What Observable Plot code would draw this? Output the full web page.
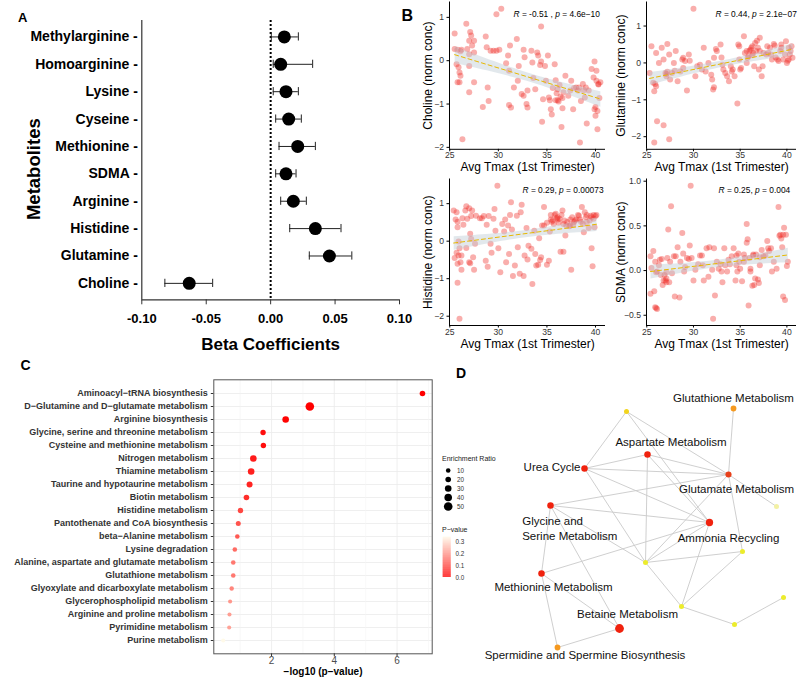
<!DOCTYPE html>
<html><head><meta charset="utf-8">
<script src="https://cdn.jsdelivr.net/npm/d3@7"></script>
<script src="https://cdn.jsdelivr.net/npm/@observablehq/plot@0.6"></script>
<style>
html,body{margin:0;padding:0;background:#fff;}
#root{position:relative;width:800px;height:678px;overflow:hidden;font-family:Arial,"Liberation Sans",sans-serif;}
.lbl{position:absolute;white-space:nowrap;line-height:1;color:#000;}
</style></head><body><div id="root"></div>
<script>
// ---------- Panel A data ----------
const metabolites = ["Methylarginine","Homoarginine","Lysine","Cyseine","Methionine","SDMA","Arginine","Histidine","Glutamine","Choline"];
const beta   = [0.0106, 0.0078, 0.0119, 0.0140, 0.0210, 0.0119, 0.0176, 0.0347, 0.0456, -0.0632];
const ciLow  = [0.0005, 0.0020, 0.0020, 0.0039, 0.0065, 0.0039, 0.0078, 0.0148, 0.0300, -0.0821];
const ciHigh = [0.0215, 0.0326, 0.0215, 0.0238, 0.0347, 0.0197, 0.0277, 0.0546, 0.0630, -0.0450];
const betaTicks = [-0.1, -0.05, 0, 0.05, 0.1];

// ---------- Panel B data ----------
const tmaxTicks = [25, 30, 35, 40];
const tmaxDomain = [24.97, 41.03];
const cholinePts = [[25.5,0.63],[25.5,0.27],[25.8,0.25],[26.1,0.22],[26.2,0.25],[25.7,-0.08],[25.9,-0.15],[26.0,-0.27],[26.1,-0.35],[26.0,-0.5],[25.8,-0.5],[26.3,-1.81],[26.7,0.85],[27.1,0.66],[27.2,0.58],[27.0,0.46],[27.5,0.46],[27.3,0.35],[27.5,0.19],[26.8,0.27],[27.0,0.15],[27.0,-0.12],[27.0,-0.73],[27.5,-0.5],[28.4,-1.07],[28.7,0.56],[28.8,0.31],[28.9,-0.62],[29.0,-0.93],[29.2,0.23],[29.5,0.23],[29.8,0.23],[29.8,1.07],[30.3,1.2],[30.1,0.25],[30.8,-0.06],[31.0,0.12],[31.1,-0.23],[31.2,0.35],[31.1,-1.02],[31.3,-1.08],[31.6,-0.62],[31.9,0.5],[32.0,-0.46],[32.1,-0.12],[32.4,-0.77],[32.6,-0.81],[32.6,0.25],[32.7,0.08],[32.9,-1.0],[33.0,-1.08],[33.0,-0.69],[33.4,0.23],[33.5,-0.04],[33.6,-0.4],[33.8,-0.66],[34.0,0.19],[34.1,0.12],[34.3,-0.1],[34.4,0.79],[34.4,-0.02],[34.5,-1.41],[34.6,-0.89],[34.8,-0.12],[34.9,-0.46],[35.1,0.12],[35.2,-0.85],[35.3,-0.91],[35.4,-1.12],[35.5,-1.24],[35.6,-0.63],[35.8,-0.08],[35.9,-0.91],[35.9,-0.45],[36.0,-0.75],[36.1,-0.66],[36.1,-0.91],[36.2,-0.94],[36.3,-0.56],[36.4,-0.83],[36.5,-1.53],[36.6,-1.1],[36.6,-0.86],[36.7,-0.73],[36.9,-0.35],[37.2,-0.81],[37.4,-0.69],[37.5,-0.46],[37.7,-1.12],[37.8,-0.63],[38.0,-0.62],[38.2,-0.69],[38.3,-0.62],[38.4,-1.89],[38.5,-0.93],[38.7,-0.54],[38.8,-0.68],[38.9,-0.85],[39.0,-0.62],[39.1,-1.45],[39.3,-0.69],[39.6,-0.19],[39.8,-0.39],[39.9,-1.12],[39.9,-0.02],[40.0,-1.07],[40.0,-1.27],[40.1,-0.23],[40.1,-0.46],[40.2,-1.58],[40.2,-1.16],[40.3,-0.54],[40.3,-0.55],[40.4,-0.86],[40.5,-0.5]];
const glutaminePts = [[25.3,-0.27],[25.5,0.45],[25.7,-0.54],[25.8,-0.77],[25.9,-0.57],[26.0,-0.63],[26.1,-1.58],[25.8,-2.16],[26.8,-1.69],[27.4,-2.07],[26.0,0.27],[26.3,0.0],[26.6,0.41],[26.8,0.09],[27.0,-0.27],[27.1,-0.3],[27.1,-0.36],[27.2,0.51],[27.2,-0.24],[27.4,0.23],[27.5,-0.45],[27.7,-0.27],[27.9,0.0],[28.0,-0.21],[28.1,0.32],[28.3,-0.5],[28.6,-0.23],[28.8,0.09],[28.9,0.14],[28.9,-0.14],[29.1,0.05],[29.3,-0.75],[29.5,0.23],[29.6,0.06],[30.0,1.47],[30.2,-0.36],[30.4,-0.09],[30.7,-0.05],[30.9,-0.18],[31.1,0.41],[31.3,-0.23],[31.6,0.0],[31.9,-0.32],[32.0,-0.45],[32.1,-0.72],[32.2,-0.66],[32.2,0.14],[32.4,0.38],[32.5,0.32],[32.9,0.5],[33.0,0.15],[33.1,-0.05],[33.2,-0.18],[33.4,-0.27],[33.6,-0.36],[33.8,-0.5],[34.0,-0.09],[34.1,-0.23],[34.2,-0.18],[34.4,-0.36],[34.7,-1.1],[34.8,0.5],[34.9,0.09],[34.9,0.45],[35.1,-0.14],[35.0,-0.18],[35.4,0.72],[35.5,0.27],[35.7,0.0],[35.7,0.32],[35.8,0.14],[35.9,0.18],[36.0,0.33],[36.1,0.36],[36.2,0.41],[36.3,0.21],[36.3,0.45],[36.4,0.27],[36.5,-0.09],[36.6,0.54],[36.7,0.32],[36.8,0.6],[36.9,0.41],[37.0,-0.18],[37.1,0.68],[37.1,0.32],[37.3,-0.36],[37.4,-0.09],[37.5,0.27],[37.8,0.23],[37.9,0.45],[38.0,0.27],[38.2,0.41],[38.3,0.23],[38.4,0.09],[38.6,0.51],[38.7,0.47],[38.8,0.15],[39.0,0.09],[39.1,0.05],[39.3,0.32],[39.4,0.5],[39.4,0.41],[39.6,0.09],[39.8,0.23],[39.9,0.59],[40.1,0.06],[40.0,0.0],[40.2,0.41],[40.2,0.09],[40.3,0.23],[40.4,0.32],[40.5,0.45],[40.6,0.14]];
const histidinePts = [[25.4,0.82],[25.7,0.77],[25.8,0.52],[25.6,0.58],[25.8,0.37],[25.9,-0.01],[25.5,-0.45],[25.7,-0.31],[25.8,-0.6],[25.9,-0.38],[26.0,-0.19],[26.1,-0.56],[26.2,-0.76],[26.2,-0.38],[25.8,-1.11],[26.0,-2.07],[26.3,0.61],[26.4,0.44],[26.6,0.82],[26.7,0.93],[26.7,-0.18],[26.8,0.6],[27.0,0.88],[27.0,-0.56],[27.1,-0.59],[27.1,0.2],[27.2,0.06],[27.2,0.67],[27.3,0.82],[27.4,-0.43],[27.5,-0.76],[27.6,-0.07],[27.7,0.68],[28.1,0.61],[28.3,0.61],[28.5,0.67],[28.7,-0.52],[28.8,0.44],[28.9,-0.68],[29.0,0.67],[29.2,-0.07],[29.3,-0.31],[29.5,0.6],[29.6,0.86],[29.7,0.28],[29.9,1.48],[30.0,-0.19],[30.2,-0.83],[30.4,0.46],[30.6,0.26],[30.7,0.58],[30.8,-0.56],[31.0,0.42],[31.1,-0.34],[31.2,0.7],[31.3,1.04],[31.4,0.31],[31.5,-0.93],[31.7,-0.65],[31.9,0.68],[32.0,-0.16],[32.2,-0.87],[32.3,0.77],[32.4,0.97],[32.6,-0.93],[32.7,-0.38],[32.9,0.35],[33.0,-0.49],[33.1,-0.12],[33.4,-0.2],[33.5,-1.14],[33.7,0.28],[33.8,-0.34],[33.9,-0.65],[34.1,-0.63],[34.2,0.08],[34.3,-0.5],[34.4,-0.43],[34.5,0.42],[34.7,0.91],[34.7,0.42],[35.0,-0.63],[35.0,0.49],[35.2,-0.52],[35.3,0.26],[35.4,0.7],[35.4,0.58],[35.5,0.52],[35.6,0.55],[35.7,0.46],[35.8,0.7],[35.9,0.73],[36.0,0.61],[36.1,0.64],[36.1,0.58],[36.2,0.49],[36.3,0.6],[36.4,-0.28],[36.5,0.7],[36.6,0.82],[36.7,-0.28],[36.7,0.46],[36.8,0.55],[36.9,0.15],[37.0,0.42],[37.1,0.51],[37.3,0.4],[37.4,0.58],[37.4,0.42],[37.5,-0.76],[37.6,0.64],[37.7,0.44],[37.8,0.51],[37.9,0.55],[38.0,0.58],[38.2,0.7],[38.3,0.68],[38.4,0.58],[38.5,0.52],[38.6,0.91],[38.7,0.46],[38.8,0.24],[38.9,0.77],[39.0,0.64],[39.1,0.7],[39.1,0.51],[39.3,0.35],[39.4,0.55],[39.5,0.68],[39.6,-0.19],[39.6,0.64],[39.7,-0.67],[39.8,0.7],[39.8,0.6],[39.9,0.37],[40.0,0.67],[40.1,0.7]];
const sdmaPts = [[25.4,0.16],[25.4,-0.26],[25.5,0.03],[25.7,0.22],[25.8,-0.23],[25.9,-0.41],[26.0,-0.42],[26.1,-0.43],[25.9,0.1],[26.0,-0.02],[26.1,-0.01],[26.3,0.06],[26.4,0.12],[26.5,-0.05],[26.6,0.13],[26.7,-0.16],[26.8,-0.11],[26.9,-0.05],[27.0,-0.11],[27.1,-0.13],[27.1,-0.09],[27.1,-0.02],[27.2,0.14],[27.3,0.46],[27.4,-0.13],[27.5,0.1],[27.6,0.72],[27.7,-0.03],[27.9,0.16],[28.0,-0.29],[28.1,0.16],[28.3,0.26],[28.5,-0.3],[28.6,0.1],[28.8,0.42],[28.9,0.19],[29.0,-0.01],[29.1,0.04],[29.3,0.14],[29.5,0.13],[29.6,0.28],[29.7,0.95],[29.8,0.14],[30.0,-0.11],[30.2,0.01],[30.5,0.07],[30.7,0.17],[30.9,0.17],[31.0,0.06],[31.1,-0.11],[31.4,0.25],[31.6,-0.07],[31.7,0.26],[32.0,0.01],[32.1,-0.54],[32.2,0.25],[32.3,-0.28],[32.5,0.1],[32.7,0.02],[32.9,0.07],[33.0,-0.01],[33.1,-0.13],[33.3,0.25],[33.4,0.06],[33.6,-0.01],[33.75,0.12],[33.9,0.07],[34.1,0.16],[34.3,0.25],[34.5,-0.11],[34.6,0.17],[34.6,0.06],[34.7,-0.01],[34.8,0.19],[34.9,0.1],[35.0,0.02],[35.2,-0.12],[35.4,0.18],[35.4,0.1],[35.5,0.14],[35.7,0.31],[35.7,0.52],[35.8,0.35],[35.9,-0.39],[36.0,0.14],[36.1,0.02],[36.1,-0.01],[36.3,-0.17],[36.4,0.18],[36.4,0.17],[36.5,-0.16],[36.6,-0.09],[36.7,0.18],[36.9,-0.1],[37.0,-0.14],[37.1,0.06],[37.1,0.15],[37.3,0.23],[37.5,0.16],[37.7,0.17],[37.9,0.33],[38.0,0.25],[38.1,0.22],[38.3,0.25],[38.4,-0.01],[38.6,0.1],[38.9,0.02],[39.1,0.71],[39.2,0.39],[39.3,0.4],[39.4,0.36],[39.5,0.26],[39.6,0.4],[39.6,-0.29],[39.7,0.48],[39.8,-0.33],[39.9,0.4],[40.0,0.05],[40.1,0.1]];
const corrLabels = ["R = -0.51 , p = 4.6e\u221210", "R = 0.44, p = 2.1e\u221207", "R = 0.29, p = 0.00073", "R = 0.25, p = 0.004"];

// ---------- Panel C data ----------
const pathways = ["Aminoacyl\u2212tRNA biosynthesis","D\u2212Glutamine and D\u2212glutamate metabolism","Arginine biosynthesis","Glycine, serine and threonine metabolism","Cysteine and methionine metabolism","Nitrogen metabolism","Thiamine metabolism","Taurine and hypotaurine metabolism","Biotin metabolism","Histidine metabolism","Pantothenate and CoA biosynthesis","beta\u2212Alanine metabolism","Lysine degradation","Alanine, aspartate and glutamate metabolism","Glutathione metabolism","Glyoxylate and dicarboxylate metabolism","Glycerophospholipid metabolism","Arginine and proline metabolism","Pyrimidine metabolism","Purine metabolism"];
const negLog10P = [6.81,3.22,2.45,1.73,1.74,1.42,1.35,1.30,1.20,1.01,0.94,0.91,0.83,0.78,0.78,0.73,0.68,0.66,0.65,0.46];
const enrichment = [20,50,30,18,18,30,30,24,20,18,14,10,10,10,10,8,5,5,5,5];
const sizeLegendValues = [10,20,30,40,50];
const pLegendTicks = [0, 0.1, 0.2, 0.3];

// ---------- Panel D data ----------
const nodeIds = ["n1","Glutathione Metabolism","Aspartate Metabolism","Urea Cycle","Glutamate Metabolism","n2","Glycine and Serine Metabolism","Ammonia Recycling","n3","n4","Methionine Metabolism","n5","n6","n7","Betaine Metabolism","Spermidine and Spermine Biosynthesis"];
const layoutX = [146,253,167,104,248,296,70,229,262,165,61,201,303,254,139,77];
const layoutY = [21,18,64,78,84,116,115,132,161,172,183,216,207,234,238,257];
const nodeScore = [0.7,0.5,0.02,0.02,0.12,1.0,0.02,0.02,0.85,0.85,0.02,0.85,0.85,0.85,0.02,0.5];
const nodeHits = [3,4,5,5,4.5,3,5,6,3,3,5,3,3,3,8,4];
const edges = [
  ["n1","Urea Cycle"],["n1","Glutamate Metabolism"],["n1","Ammonia Recycling"],
  ["Glutathione Metabolism","Glutamate Metabolism"],
  ["Urea Cycle","Aspartate Metabolism"],["Urea Cycle","Glutamate Metabolism"],["Urea Cycle","Ammonia Recycling"],["Urea Cycle","n4"],
  ["Aspartate Metabolism","Glutamate Metabolism"],["Aspartate Metabolism","Ammonia Recycling"],["Aspartate Metabolism","n4"],
  ["Glutamate Metabolism","n2"],["Glutamate Metabolism","n3"],["Glutamate Metabolism","n4"],["Glutamate Metabolism","Glycine and Serine Metabolism"],
  ["Glycine and Serine Metabolism","Ammonia Recycling"],["Glycine and Serine Metabolism","n4"],["Glycine and Serine Metabolism","Methionine Metabolism"],["Glycine and Serine Metabolism","Betaine Metabolism"],
  ["Ammonia Recycling","n4"],["Ammonia Recycling","n5"],["Ammonia Recycling","Methionine Metabolism"],
  ["n4","n3"],["n4","n5"],["n3","n5"],["n5","n7"],["n7","n6"],
  ["Methionine Metabolism","Betaine Metabolism"],["Methionine Metabolism","Spermidine and Spermine Biosynthesis"],["Betaine Metabolism","Spermidine and Spermine Biosynthesis"]
];
const netLabelsCenter = [["Glutathione Metabolism",253,8],["Aspartate Metabolism",190.5,52],["Glutamate Metabolism",256,98.7],["Ammonia Recycling",248,148.3],["Methionine Metabolism",73,196.7],["Betaine Metabolism",147,223.7],["Spermidine and Spermine Biosynthesis",104.5,265.3]];
const netLabelsEnd = [["Urea Cycle",100,77.3]];
const netLabelsStart = [["Glycine and",41.7,131],["Serine Metabolism",41.7,146]];

// ---------- helpers ----------
const FONT = 'Arial, "Liberation Sans", sans-serif';
const root = document.getElementById("root");
const baseStyle = {fontFamily: FONT, background: "transparent", overflow: "visible", color: "black"};
function place(el, left, top) { el.style.position = "absolute"; el.style.left = left + "px"; el.style.top = top + "px"; root.appendChild(el); return el; }
function addText(text, left, top, css) { const d = document.createElement("div"); d.className = "lbl"; d.textContent = text; Object.assign(d.style, css); place(d, left, top); }
function italicize(svg) {
  svg.querySelectorAll("text").forEach(t => {
    const s = t.textContent;
    if (!s.startsWith("R =") || t.children.length) return;
    t.textContent = "";
    s.split(/(\bR\b|\bp\b)/).forEach(p => {
      if (!p) return;
      const ts = document.createElementNS("http://www.w3.org/2000/svg", "tspan");
      ts.textContent = p;
      if (p === "R" || p === "p") ts.setAttribute("font-style", "italic");
      t.appendChild(ts);
    });
  });
}

// ---------- Panel A ----------
const rowsA = metabolites.map((name, i) => ({name, i, beta: beta[i], lo: ciLow[i], hi: ciHigh[i]}));
const yBottomA = metabolites.length - 0.4;
const plotA = Plot.plot({
  width: 410, height: 360, marginLeft: 141.3, marginRight: 11, marginTop: 20, marginBottom: 60.7,
  x: {domain: [-0.1, 0.1]},
  y: {domain: [yBottomA, -0.6]},
  style: baseStyle,
  marks: [
    Plot.ruleX([0], {stroke: "black", strokeWidth: 2, strokeDasharray: "2,2"}),
    Plot.ruleY(rowsA, {y: "i", x1: "lo", x2: "hi", stroke: "#222", strokeWidth: 1}),
    Plot.ruleX(rowsA, {x: "lo", y1: d => d.i - 0.15, y2: d => d.i + 0.15, stroke: "#222", strokeWidth: 1}),
    Plot.ruleX(rowsA, {x: "hi", y1: d => d.i - 0.15, y2: d => d.i + 0.15, stroke: "#222", strokeWidth: 1}),
    Plot.dot(rowsA, {x: "beta", y: "i", r: 6.5, fill: "black"}),
    Plot.ruleX([-0.1], {stroke: "#333", strokeWidth: 1.2}),
    Plot.ruleY([yBottomA], {stroke: "#333", strokeWidth: 1.2}),
    Plot.axisX({ticks: betaTicks, tickFormat: d => d.toFixed(2), tickSize: 5, tickPadding: 9, fontSize: 13, fontWeight: "bold", stroke: "#333", label: null}),
    Plot.axisY({ticks: d3.range(metabolites.length), tickFormat: i => metabolites[i] + " -", tickSize: 0, tickPadding: 4, fontSize: 14, fontWeight: "bold", label: null}),
    Plot.text(["Beta Coefficients"], {frameAnchor: "bottom", lineAnchor: "middle", dy: 44.4, fontSize: 17, fontWeight: "bold"}),
    Plot.text(["Metabolites"], {frameAnchor: "left", textAnchor: "middle", lineAnchor: "middle", rotate: -90, dx: -108, dy: 9, fontSize: 18.5, fontWeight: "bold"})
  ]
});
place(plotA, 0, 0);

// ---------- Panel B ----------
function scatter(pts, ylab, stat, o) {
  const [ymin, ymax] = d3.extent(pts, d => d[1]);
  const pad = (ymax - ymin) * 0.05;
  const ydom = [ymin - pad, ymax + pad];
  const svg = Plot.plot({
    width: o.w, height: 178, marginLeft: o.ml, marginRight: o.mr, marginTop: o.mt, marginBottom: o.mb,
    x: {domain: tmaxDomain},
    y: {domain: ydom},
    style: baseStyle,
    marks: [
      Plot.dot(pts, {x: d => d[0], y: d => d[1], r: 3, fill: "#ee2b24", fillOpacity: 0.38}),
      Plot.linearRegressionY(pts, {x: d => d[0], y: d => d[1], stroke: "#E7B800", strokeWidth: 1, strokeDasharray: "4,3", fill: "#bfcdd5", fillOpacity: 0.45}),
      Plot.ruleX([tmaxDomain[0]], {stroke: "black", strokeWidth: 1}),
      Plot.ruleY([ydom[0]], {stroke: "black", strokeWidth: 1}),
      Plot.axisX({ticks: tmaxTicks, tickSize: 2.5, tickPadding: 0.5, fontSize: 8.6, fill: "#333", label: null}),
      Plot.axisY({ticks: o.yticks, tickFormat: o.fmt, tickSize: 2.5, tickPadding: 3, fontSize: 8.6, fill: "#333", label: null}),
      Plot.text([ylab], {frameAnchor: "left", textAnchor: "middle", lineAnchor: "middle", rotate: -90, dx: o.tdx, fontSize: 12}),
      Plot.text(["Avg Tmax (1st Trimester)"], {frameAnchor: "bottom", lineAnchor: "middle", dy: o.xdy, fontSize: 12}),
      Plot.text([stat], {frameAnchor: "top-left", textAnchor: "start", lineAnchor: "middle", dx: o.sdx, dy: o.sdy, fontSize: 8.4})
    ]
  });
  italicize(svg);
  return svg;
}
const intFmt = d => d3.format("d")(d);
const oneFmt = d => d3.format(".1f")(d);
place(scatter(cholinePts, "Choline (norm conc)", corrLabels[0], {w: 210, ml: 49, mr: 5, mt: 1.5, mb: 29.2, yticks: [-2,-1,0,1], fmt: intFmt, tdx: -21, xdy: 18.2, sdx: 64, sdy: 12.5}), 400, 0);
place(scatter(glutaminePts, "Glutamine (norm conc)", corrLabels[1], {w: 200, ml: 46, mr: 4, mt: 1.5, mb: 29.2, yticks: [-2,-1,0,1], fmt: intFmt, tdx: -25, xdy: 18.2, sdx: 69, sdy: 12.5}), 600, 0);
place(scatter(histidinePts, "Histidine (norm conc)", corrLabels[2], {w: 210, ml: 49, mr: 5, mt: 3.5, mb: 28, yticks: [-2,-1,0,1], fmt: intFmt, tdx: -21, xdy: 18.2, sdx: 73, sdy: 11.5}), 400, 175);
place(scatter(sdmaPts, "SDMA (norm conc)", corrLabels[3], {w: 200, ml: 46, mr: 4, mt: 3.5, mb: 28, yticks: [-0.5,0,0.5,1], fmt: oneFmt, tdx: -25, xdy: 18.2, sdx: 72, sdy: 11.5}), 600, 175);

// ---------- Panel C ----------
const rowsC = pathways.map((name, i) => ({name, lp: negLog10P[i], er: enrichment[i], p: Math.pow(10, -negLog10P[i])}));
const rScaleC = {type: "linear", domain: [10, 50], range: [2.3, 4.3]};
const colorC = {type: "linear", domain: [0, 0.345], range: ["#ff0000", "#fff9e8"]};
const plotC = Plot.plot({
  width: 440, height: 338, marginLeft: 213.3, marginRight: 8.3, marginTop: 39.3, marginBottom: 24.7,
  x: {domain: [0.16, 7.12]},
  y: {type: "point", domain: pathways, padding: 0.6},
  r: rScaleC, color: colorC,
  style: baseStyle,
  marks: [
    Plot.gridY({stroke: "#ebebeb", strokeOpacity: 1, strokeWidth: 0.8}),
    Plot.ruleX([1,3,5,7], {stroke: "#f3f3f3", strokeWidth: 0.6}),
    Plot.gridX({ticks: [2,4,6], stroke: "#ebebeb", strokeOpacity: 1, strokeWidth: 0.8}),
    Plot.dot(rowsC, {x: "lp", y: "name", r: "er", fill: "p"}),
    Plot.frame({stroke: "#555", strokeWidth: 1}),
    Plot.axisY({tickSize: 2.5, tickPadding: 3.5, fontSize: 9, fontWeight: "bold", fill: "#333", stroke: "#333", label: null}),
    Plot.axisX({ticks: [2,4,6], tickFormat: d => String(d), tickSize: 3, tickPadding: 0.5, fontSize: 10, fill: "#4d4d4d", stroke: "#333", label: null}),
    Plot.text(["\u2212log10 (p\u2212value)"], {frameAnchor: "bottom", lineAnchor: "middle", dy: 18.4, fontSize: 10, fontWeight: "bold"})
  ]
});
place(plotC, 0, 340);

const sizeLegend = Plot.plot({
  width: 40, height: 50, marginLeft: 0, marginRight: 0, marginTop: 7.3, marginBottom: 5.7,
  y: {type: "point", domain: sizeLegendValues, padding: 0, axis: null},
  r: rScaleC,
  style: baseStyle,
  marks: [
    Plot.dot(sizeLegendValues, {y: d => d, r: d => d, fill: "black", frameAnchor: "left", dx: 11.7}),
    Plot.text(sizeLegendValues, {y: d => d, text: d => String(d), frameAnchor: "left", dx: 20.5, textAnchor: "start", fontSize: 6.3, fill: "#333"})
  ]
});
place(sizeLegend, 436, 462);

const pSteps = d3.range(0, 0.345, 0.0025);
const colorLegend = Plot.plot({
  width: 40, height: 52, marginLeft: 0, marginRight: 0, marginTop: 6.7, marginBottom: 5,
  x: {domain: [0, 1], range: [6.7, 14.7], axis: null},
  y: {domain: [0, 0.345], axis: null},
  color: colorC,
  style: baseStyle,
  marks: [
    Plot.rect(pSteps, {x1: 0, x2: 1, y1: d => d, y2: d => Math.min(0.345, d + 0.003), fill: d => d}),
    Plot.text(pLegendTicks, {y: d => d, text: d => d.toFixed(1), frameAnchor: "left", dx: 19, textAnchor: "start", fontSize: 6.3, fill: "#333"})
  ]
});
place(colorLegend, 436, 530);
addText("Enrichment Ratio", 442, 455, {fontSize: "7px", color: "#222"});
addText("P\u2212value", 442, 525.5, {fontSize: "7px", color: "#222"});

// ---------- Panel D ----------
const nodes = nodeIds.map((id, i) => ({id, x: layoutX[i], y: layoutY[i], score: nodeScore[i], hits: nodeHits[i]}));
const byId = new Map(nodes.map(n => [n.id, n]));
const links = edges.map(([a, b]) => ({a: byId.get(a), b: byId.get(b)}));
const toLab = arr => arr.map(([t, x, y]) => ({t, x, y}));
const plotD = Plot.plot({
  width: 320, height: 280, marginLeft: 0, marginRight: 0, marginTop: 0, marginBottom: 0,
  x: {domain: [0, 320], range: [0, 320], axis: null},
  y: {domain: [0, 280], range: [0, 280], axis: null},
  r: {type: "linear", domain: [3, 8], range: [2.5, 4.4]},
  color: {type: "linear", domain: [0, 0.12, 0.5, 0.7, 0.85, 1], range: ["#f21c0c", "#e8401a", "#f5991f", "#f2d41c", "#ecec2c", "#f3f1a4"]},
  style: baseStyle,
  marks: [
    Plot.link(links, {x1: d => d.a.x, y1: d => d.a.y, x2: d => d.b.x, y2: d => d.b.y, stroke: "#c9c9c9", strokeWidth: 0.9}),
    Plot.dot(nodes, {x: "x", y: "y", r: "hits", fill: "score"}),
    Plot.text(toLab(netLabelsCenter), {x: "x", y: "y", text: "t", fontSize: 11.5, fill: "#111"}),
    Plot.text(toLab(netLabelsEnd), {x: "x", y: "y", text: "t", textAnchor: "end", fontSize: 11.5, fill: "#111"}),
    Plot.text(toLab(netLabelsStart), {x: "x", y: "y", text: "t", textAnchor: "start", fontSize: 11.5, fill: "#111"})
  ]
});
place(plotD, 480, 390);

// ---------- Panel letters ----------
addText("A", 18, 11, {fontSize: "13px", fontWeight: "bold"});
addText("B", 401.5, 8, {fontSize: "16px", fontWeight: "bold"});
addText("C", 20.5, 358, {fontSize: "14px", fontWeight: "bold"});
addText("D", 456, 366, {fontSize: "14px", fontWeight: "bold"});
</script></body></html>
